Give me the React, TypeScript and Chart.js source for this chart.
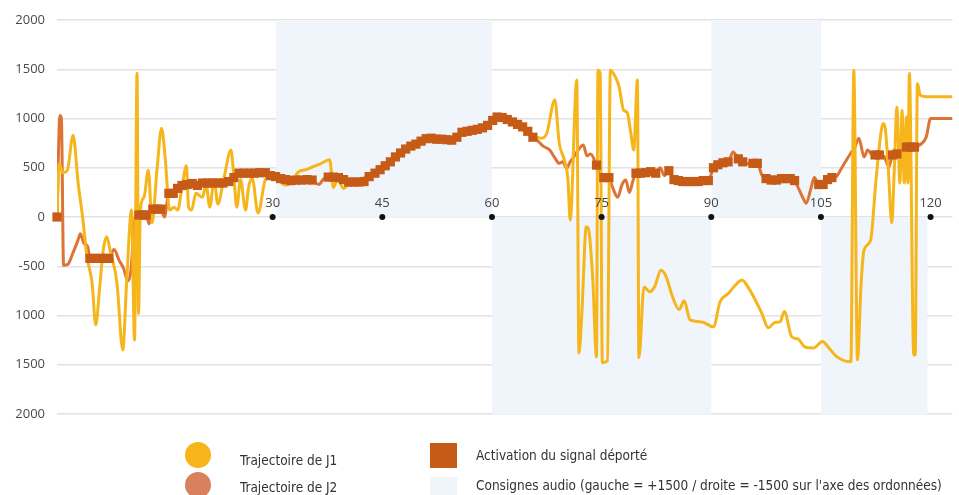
import React, { useEffect, useRef } from "react";
import { Chart, registerables } from "chart.js";

Chart.register(...registerables);

// Y axis tick labels as printed on the reference (top to bottom)
const yTickValues = [2000, 1500, 1000, 500, 0, -500, -1000, -1500, -2000];
const yTickLabels = ["2000", "1500", "1000", "500", "0", "-500", "1000", "1500", "2000"];

// X tick labels shown on the zero line
const xTickValues = [30, 45, 60, 75, 90, 105, 120];

// Trajectoire de J1 : [time, position]
const j1Points: [number, number][] = [
  [0.5, 0], [0.8, 540], [1.3, 450], [1.9, 470], [2.7, 830], [3.4, 340], [4.0, 0], [4.6, -400],
  [5.3, -670], [5.8, -1095], [6.3, -750], [6.8, -350], [7.3, -200], [7.8, -350], [8.7, -670],
  [9.5, -1350], [10.0, -700], [10.7, 70], [11.1, -1250], [11.45, 1460], [11.65, -980], [11.9, 70],
  [12.4, 200], [13.0, 475], [13.5, -60], [14.2, 500], [14.8, 900], [15.3, 600], [15.9, 70],
  [16.5, 100], [17.0, 70], [17.6, 300], [18.2, 520], [18.5, 100], [18.9, 70], [19.5, 240],
  [20.4, 200], [20.9, 330], [21.4, 100], [22.0, 380], [22.5, 130], [23.3, 380], [24.3, 680],
  [24.7, 400], [25.1, 100], [25.6, 380], [26.3, 70], [26.7, 300], [27.2, 395], [28.0, 40],
  [29.0, 380], [29.8, 420], [30.5, 400], [31.7, 325], [32.5, 340], [33.5, 455], [34.5, 480],
  [35.5, 510], [36.5, 540], [37.8, 580], [38.3, 300], [38.9, 380], [39.7, 290], [40.5, 340],
  [41.5, 360], [43.0, 420], [45.0, 520], [47.0, 620], [49.0, 720], [51.0, 790], [53.0, 780],
  [55.0, 800], [57.0, 880], [59.0, 920], [61.0, 1000], [63.0, 950], [64.5, 870], [65.5, 820],
  [66.0, 810], [66.8, 800], [67.5, 850], [68.6, 1190], [69.2, 750], [69.9, 580], [70.4, 375],
  [70.7, -30], [71.6, 1390], [71.9, -1380], [72.3, -975], [72.9, -100], [73.2, -120],
  [73.8, -640], [74.3, -1420], [74.5, 1490], [74.8, 1460], [75.1, -1480], [75.8, -1460],
  [76.2, 1490], [76.9, 1420], [77.4, 1320], [78.0, 1085], [78.5, 1060], [79.0, 850], [79.4, 680],
  [79.9, 1390], [80.1, -1430], [80.8, -710], [81.6, -760], [82.3, -700], [83.1, -540],
  [83.8, -600], [84.7, -810], [85.6, -940], [86.3, -850], [87.1, -1045], [88.7, -1065],
  [90.3, -1115], [91.2, -860], [92.3, -780], [93.2, -700], [94.2, -640], [95.1, -720],
  [96.0, -840], [96.9, -975], [97.8, -1125], [98.7, -1070], [99.4, -1065], [100.0, -960],
  [101.0, -1215], [101.9, -1240], [102.8, -1320], [104.0, -1330], [105.2, -1265], [106.1, -1330],
  [107.2, -1420], [109.1, -1470], [109.5, 1490], [110.0, -1450], [110.5, -670], [110.9, -335],
  [111.8, -235], [112.5, 345], [113.2, 850], [113.5, 950], [113.8, 900], [114.2, 510],
  [114.7, -60], [115.0, 400], [115.4, 1115], [115.8, 345], [116.1, 1080], [116.4, 345],
  [116.7, 1015], [116.9, 345], [117.1, 1460], [117.7, -1400], [117.9, -1400], [118.2, 1355],
  [118.6, 1235], [119.5, 1220], [123, 1220],
];

// Trajectoire de J2 : [time, position]
const j2Points: [number, number][] = [
  [0.5, 0], [0.9, 1030], [1.1, 1000], [1.4, -490], [2.0, -480], [2.6, -380], [3.3, -250],
  [3.7, -170], [4.2, -270], [4.7, -300], [5.0, -420], [5.7, -420], [6.4, -420], [7.1, -420],
  [7.6, -420], [8.3, -330], [9.0, -440], [9.6, -520], [10.2, -650], [10.6, -550], [11.2, 0],
  [11.7, 20], [12.3, 20], [12.7, 20], [13.1, -70], [13.6, 80], [14.2, 80], [14.7, 80],
  [15.2, 0], [15.8, 240], [16.4, 240], [17.0, 290], [17.6, 320], [18.3, 330], [19.0, 340],
  [19.7, 320], [20.4, 345], [21.1, 345], [21.8, 345], [22.5, 345], [23.2, 345], [24.0, 360],
  [24.7, 400], [25.4, 445], [26.1, 445], [26.8, 445], [27.5, 445], [28.2, 450], [29.0, 450],
  [29.7, 420], [30.4, 410], [31.1, 390], [31.8, 380], [32.5, 370], [33.2, 375], [34.0, 375],
  [34.7, 380], [35.4, 375], [36.3, 330], [37.0, 390], [37.6, 405], [38.3, 405], [39.0, 400],
  [39.7, 380], [40.4, 355], [41.1, 355], [41.8, 355], [42.5, 360], [43.2, 410], [44.0, 445],
  [44.7, 480], [45.4, 520], [46.1, 560], [46.8, 610], [47.5, 650], [48.2, 690], [48.9, 720],
  [49.6, 740], [50.3, 770], [51.0, 795], [51.7, 800], [52.4, 790], [53.1, 790], [53.8, 785],
  [54.5, 780], [55.2, 810], [55.9, 860], [56.6, 870], [57.3, 880], [58.0, 890], [58.7, 905],
  [59.4, 930], [60.1, 980], [60.7, 1015], [61.4, 1010], [62.1, 990], [62.8, 965], [63.5, 940],
  [64.2, 915], [64.9, 870], [65.6, 810], [66.3, 770], [67.0, 720], [67.9, 680], [68.6, 600],
  [69.2, 545], [69.7, 560], [70.2, 495], [70.7, 560], [71.2, 610], [71.8, 680], [72.5, 730],
  [73.0, 620], [73.5, 640], [74.3, 527], [75.3, 400], [76.0, 400], [76.5, 300], [77.2, 200],
  [77.8, 330], [78.3, 375], [78.8, 250], [79.3, 370], [79.7, 445], [80.3, 445], [81.0, 450],
  [81.7, 460], [82.4, 445], [83.0, 500], [83.6, 420], [84.2, 470], [84.9, 380], [85.5, 370],
  [86.1, 360], [86.8, 360], [87.5, 360], [88.2, 360], [88.9, 370], [89.6, 370], [90.3, 500],
  [90.9, 530], [91.6, 550], [92.3, 560], [93.0, 660], [93.7, 590], [94.3, 560], [95.0, 540],
  [95.7, 545], [96.3, 545], [96.9, 430], [97.5, 390], [98.2, 375], [98.9, 375], [99.6, 390],
  [100.2, 390], [100.8, 390], [101.4, 370], [102.0, 280], [102.5, 200], [103.0, 140],
  [103.6, 280], [104.1, 400], [104.7, 330], [105.3, 330], [105.9, 380], [106.5, 400],
  [107.1, 410], [107.7, 480], [108.3, 555], [109.1, 650], [109.6, 700], [110.2, 800],
  [110.9, 610], [111.4, 680], [111.9, 640], [112.4, 630], [113.0, 630], [113.6, 620],
  [114.3, 510], [114.8, 630], [115.4, 640], [116.0, 680], [116.7, 710], [117.3, 710],
  [117.8, 710], [118.5, 730], [119.4, 810], [120.0, 1000], [123, 1000],
];

// Activation du signal déporté : time intervals [start, end] where the signal is on
const activationRanges: [number, number][] = [
  [0.4, 0.6], [4.9, 7.7], [11.5, 12.8], [13.5, 14.8], [15.7, 35.5], [37.5, 65.7],
  [74.2, 74.4], [75.2, 76.1], [79.6, 82.5], [84.0, 90.0], [90.3, 92.4], [93.6, 94.4],
  [95.5, 96.4], [97.4, 99.7], [100.1, 101.5], [104.6, 106.6], [112.3, 113.1],
  [114.7, 115.6], [116.6, 117.9],
];

// Consignes audio : band edges and side (+ = gauche, - = droite)
const bandEdges: [number, number][] = [[30.4, 60], [60, 90], [90, 105], [105, 119.6]];
const bandSides = [2000, -2000, 2000, -2000];

const COL_J1 = "#F6B51B";
const COL_J2 = "#DD7436";
const COL_J2_LEGEND = "#D9815C";
const COL_ACT = "#C65A17";
const COL_BAND = "#EFF5FB";

const xTickPlugin = {
  id: "xTicksOnZero",
  afterDatasetsDraw(chart: any) {
    const { ctx, scales } = chart;
    const x = scales.x;
    const y = scales.y;
    const y0 = y.getPixelForValue(0);
    ctx.save();
    ctx.font = "13px 'Open Sans', sans-serif";
    ctx.textAlign = "center";
    ctx.textBaseline = "bottom";
    xTickValues.forEach((v) => {
      const px = x.getPixelForValue(v);
      ctx.beginPath();
      ctx.arc(px, y0, 3, 0, Math.PI * 2);
      ctx.fillStyle = "#111";
      ctx.fill();
      ctx.fillStyle = "#444";
      ctx.fillText(String(v), px, y0 - 7);
    });
    ctx.restore();
  },
};

function App() {
  const ref = useRef<HTMLCanvasElement>(null);

  useEffect(() => {
    document.body.style.margin = "0";
    const inActive = (t: number) => activationRanges.some(([a, b]) => t >= a && t <= b);
    const bandData: { x: number; y: number }[] = [];
    bandEdges.forEach(([a, b], i) => {
      bandData.push({ x: a, y: bandSides[i] });
      bandData.push({ x: b, y: bandSides[i] });
    });
    const chart = new Chart(ref.current as HTMLCanvasElement, {
      type: "line",
      data: {
        datasets: [
          {
            label: "Consignes audio",
            data: bandData,
            borderWidth: 0,
            pointRadius: 0,
            backgroundColor: COL_BAND,
            borderColor: "rgba(0,0,0,0)",
            fill: "origin",
            order: 4,
          },
          {
            label: "Trajectoire de J2",
            data: j2Points.map(([x, y]) => ({ x, y })),
            borderColor: COL_J2,
            borderWidth: 3,
            pointRadius: 0,
            cubicInterpolationMode: "monotone",
            fill: false,
            order: 3,
          },
          {
            label: "Trajectoire de J1",
            data: j1Points.map(([x, y]) => ({ x, y })),
            borderColor: COL_J1,
            borderWidth: 3,
            pointRadius: 0,
            cubicInterpolationMode: "monotone",
            fill: false,
            order: 2,
          },
          {
            label: "Activation du signal déporté",
            data: j2Points.filter(([x]) => inActive(x)).map(([x, y]) => ({ x, y })),
            showLine: false,
            pointStyle: "rect",
            pointRadius: 6.5,
            pointBorderWidth: 0,
            pointBackgroundColor: COL_ACT,
            borderColor: COL_ACT,
            fill: false,
            clip: false,
            order: 1,
          } as any,
        ],
      },
      options: {
        responsive: false,
        animation: false,
        layout: { padding: { top: 20, bottom: 81, left: 0, right: 0 } },
        plugins: { legend: { display: false }, tooltip: { enabled: false } },
        scales: {
          x: {
            type: "linear",
            min: 0.5,
            max: 123,
            display: false,
          },
          y: {
            min: -2000,
            max: 2000,
            afterFit: (s: any) => {
              s.width = 57;
            },
            afterBuildTicks: (s: any) => {
              s.ticks = yTickValues.map((v) => ({ value: v }));
            },
            ticks: {
              padding: 12,
              color: "#4a4a4a",
              font: { family: "'Open Sans', sans-serif", size: 13 },
              callback: (v: any) => {
                const i = yTickValues.indexOf(Number(v));
                return i >= 0 ? yTickLabels[i] : "";
              },
            },
            grid: { color: "#e2e2e2", lineWidth: 1.5, drawTicks: false },
            border: { display: false },
          },
        },
      },
      plugins: [xTickPlugin],
    });
    return () => chart.destroy();
  }, []);

  const txt: React.CSSProperties = {
    position: "absolute",
    fontFamily: "'Liberation Sans Narrow', 'DejaVu Sans Condensed', sans-serif",
    fontSize: 13.5,
    color: "#333",
    whiteSpace: "nowrap",
    lineHeight: "16px",
  };

  return (
    <div style={{ position: "relative", width: 959, height: 495, overflow: "hidden", background: "#fff" }}>
      <canvas ref={ref} width={959} height={495} style={{ display: "block" }} />
      <div style={{ position: "absolute", left: 185, top: 442, width: 26, height: 26, borderRadius: 13, background: COL_J1 }} />
      <div style={{ position: "absolute", left: 185, top: 472, width: 26, height: 26, borderRadius: 13, background: COL_J2_LEGEND }} />
      <div style={{ ...txt, left: 240, top: 452 }}>Trajectoire de J1</div>
      <div style={{ ...txt, left: 240, top: 479 }}>Trajectoire de J2</div>
      <div style={{ position: "absolute", left: 430, top: 443, width: 27, height: 25, background: COL_ACT }} />
      <div style={{ position: "absolute", left: 430, top: 477, width: 27, height: 25, background: COL_BAND }} />
      <div style={{ ...txt, left: 476, top: 447 }}>Activation du signal déporté</div>
      <div style={{ ...txt, left: 476, top: 477 }}>
        Consignes audio (gauche = +1500 / droite = -1500 sur l'axe des ordonnées)
      </div>
    </div>
  );
}

export default App;
